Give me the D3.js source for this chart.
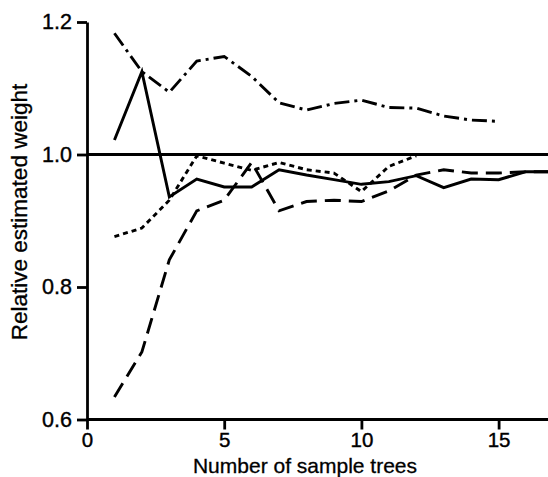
<!DOCTYPE html>
<html>
<head>
<meta charset="utf-8">
<script src="https://cdn.jsdelivr.net/npm/d3@7"></script>
<style>
  body { margin: 0; background: #fff; }
  text { font-family: "Liberation Sans", Arial, Helvetica, sans-serif; fill: #000; }
</style>
</head>
<body>
<div id="chart"></div>
<script>
var w = 548, h = 477;

// sample tree counts
var trees = [1, 2, 3, 4, 5, 6, 7, 8, 9, 10, 11, 12, 13, 14, 15, 16, 17];

// relative estimated weight, one array per line
var solidVals    = [1.022, 1.125, 0.936, 0.963, 0.951, 0.951, 0.977, 0.969, 0.962, 0.955, 0.959, 0.968, 0.950, 0.963, 0.962, 0.974, 0.974];
var dottedVals   = [0.876, 0.889, 0.931, 0.998, 0.987, 0.976, 0.988, 0.977, 0.972, 0.944, 0.982, 0.998];
var dashedVals   = [0.634, 0.702, 0.841, 0.915, 0.931, 0.988, 0.915, 0.929, 0.931, 0.929, 0.945, 0.969, 0.977, 0.972, 0.972, 0.974, 0.974];
var dashDotVals  = [1.183, 1.125, 1.094, 1.141, 1.148, 1.118, 1.078, 1.067, 1.077, 1.082, 1.071, 1.070, 1.058, 1.052, 1.050];

var xTicks = [0, 5, 10, 15];
var yTicks = [0.6, 0.8, 1.0, 1.2];

var series = [
  { vals: solidVals, dash: null },
  { vals: dottedVals, dash: "5,4" },
  { vals: dashedVals, dash: "16,8" },
  { vals: dashDotVals, dash: "15,5,3,5" }
];

var svg = d3.select("#chart").append("svg")
    .attr("width", w).attr("height", h);

var x = d3.scaleLinear().domain([0, 16.8]).range([87, 548]);
var y = d3.scaleLinear().domain([0.6, 1.2]).range([419.5, 22]);

// clip so lines stop at the right edge
svg.append("clipPath").attr("id", "plotclip")
  .append("rect").attr("x", 87).attr("y", 0).attr("width", w - 87).attr("height", 420);

// reference line at 1.0
svg.append("line")
    .attr("x1", x(0)).attr("x2", w)
    .attr("y1", y(1)).attr("y2", y(1))
    .attr("stroke", "#000").attr("stroke-width", 2.8);

var line = d3.line()
    .x((d, i) => x(trees[i]))
    .y(d => y(d));

svg.append("g").attr("clip-path", "url(#plotclip)")
  .selectAll("path.series")
  .data(series)
  .enter().append("path")
    .attr("class", "series")
    .attr("d", d => line(d.vals))
    .attr("fill", "none")
    .attr("stroke", "#000")
    .attr("stroke-width", 2.9)
    .attr("stroke-dasharray", d => d.dash);

// x axis
var xAxis = svg.append("g")
    .attr("transform", "translate(0," + y(0.6) + ")")
    .call(d3.axisBottom(x).tickValues(xTicks).tickSize(10).tickPadding(3).tickSizeOuter(0));
xAxis.select(".domain").attr("d", "M" + x(0) + ",0H" + w).attr("stroke-width", 2.8);
xAxis.selectAll(".tick line").attr("stroke-width", 2.8);
xAxis.selectAll(".tick text").attr("font-size", 20.5).attr("font-family", null)
    .attr("stroke", "#000").attr("stroke-width", 0.4);

// y axis
var yAxis = svg.append("g")
    .attr("transform", "translate(" + x(0) + ",0)")
    .call(d3.axisLeft(y).tickValues(yTicks).tickFormat(d3.format(".1f")).tickSize(10).tickPadding(5).tickSizeOuter(0));
yAxis.select(".domain").attr("stroke-width", 2.8);
yAxis.selectAll(".tick line").attr("stroke-width", 2.8);
yAxis.selectAll(".tick text").attr("font-size", 21.5).attr("font-family", null)
    .attr("stroke", "#000").attr("stroke-width", 0.4);

// axis titles
svg.append("text")
    .attr("x", 305).attr("y", 472.5)
    .attr("text-anchor", "middle")
    .attr("font-size", 21)
    .attr("stroke", "#000").attr("stroke-width", 0.3)
    .text("Number of sample trees");

svg.append("text")
    .attr("transform", "translate(27,212) rotate(-90)")
    .attr("text-anchor", "middle")
    .attr("font-size", 22.5)
    .attr("stroke", "#000").attr("stroke-width", 0.3)
    .text("Relative estimated weight");
</script>
</body>
</html>
